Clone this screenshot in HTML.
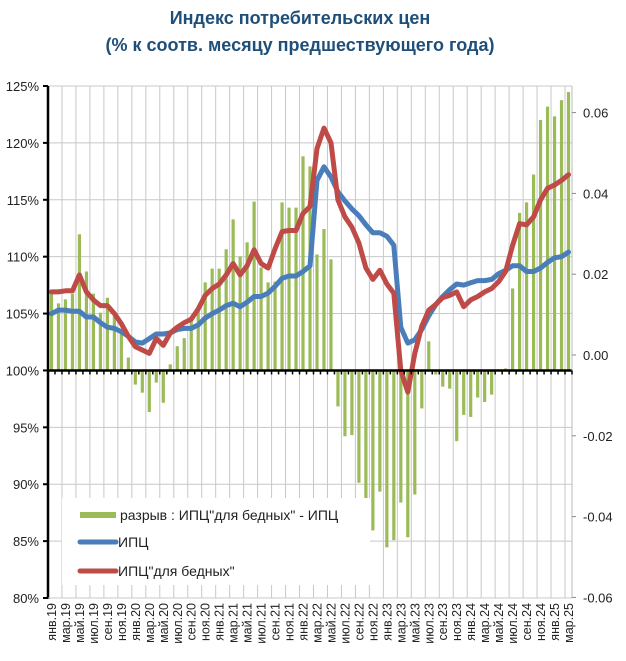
<!DOCTYPE html>
<html><head><meta charset="utf-8">
<style>
html,body{margin:0;padding:0;background:#fff;}
body{width:626px;height:656px;overflow:hidden;font-family:"Liberation Sans","DejaVu Sans",sans-serif;}
</style></head>
<body>
<svg id="chart" width="626" height="656" viewBox="0 0 626 656" xmlns="http://www.w3.org/2000/svg" font-family="Liberation Sans, DejaVu Sans, sans-serif">
<text x="300" y="24" text-anchor="middle" font-size="18" font-weight="bold" fill="#1f4e79">Индекс потребительских цен</text>
<text x="300" y="51" text-anchor="middle" font-size="18" font-weight="bold" fill="#1f4e79">(% к соотв. месяцу предшествующего года)</text>
<g id="grid"></g><g id="bars"></g><g id="lines"></g><g id="axes"></g>
<g>
<rect x="62" y="498" width="308" height="87" fill="#fff"/>
<rect x="80" y="512" width="36" height="6" fill="#9bbb59"/>
<text x="120" y="520" font-size="14" fill="#222">разрыв : ИПЦ"для бедных" - ИПЦ</text>
<line x1="80" y1="542" x2="116" y2="542" stroke="#4a7ebb" stroke-width="5" stroke-linecap="round"/>
<text x="118" y="547" font-size="14" fill="#222">ИПЦ</text>
<line x1="80" y1="571" x2="116" y2="571" stroke="#be4b48" stroke-width="5" stroke-linecap="round"/>
<text x="118" y="576" font-size="14" fill="#222">ИПЦ"для бедных"</text>
</g>
</svg>
<script>
const months=["янв","фев","мар","апр","май","июн","июл","авг","сен","окт","ноя","дек"];
const cpi=[105.0,105.3,105.3,105.2,105.2,104.7,104.7,104.2,103.8,103.7,103.4,103.0,102.5,102.4,102.8,103.2,103.2,103.3,103.6,103.7,103.7,104.0,104.6,105.0,105.3,105.7,105.9,105.6,106.0,106.5,106.5,106.8,107.4,108.1,108.3,108.3,108.7,109.2,116.7,117.9,117.0,115.7,114.9,114.2,113.6,112.8,112.1,112.1,111.8,111.0,103.8,102.4,102.7,103.6,104.8,105.8,106.5,107.1,107.6,107.5,107.7,107.9,107.9,108.0,108.5,108.8,109.2,109.2,108.7,108.7,109.0,109.5,109.9,110.0,110.4];
const cpiPoor=[106.9,106.9,107.0,107.0,108.4,106.9,106.2,105.7,105.7,105.0,104.1,103.0,102.1,101.8,101.5,102.8,102.2,103.3,103.8,104.2,104.5,105.4,106.6,107.2,107.6,108.4,109.4,108.4,109.2,110.6,109.4,109.0,110.7,112.2,112.3,112.3,113.8,114.4,119.5,121.3,120.0,115.0,113.5,112.6,111.2,109.0,108.0,108.8,107.6,106.8,100.0,98.1,101.5,103.9,105.3,105.8,106.4,106.6,106.9,105.6,106.2,106.5,106.9,107.2,107.8,108.7,111.0,112.9,112.8,113.5,115.0,116.0,116.3,116.7,117.2];
const gap=[0.019,0.0166,0.0176,0.019,0.0337,0.0245,0.019,0.0143,0.018,0.0134,0.0101,0.0032,-0.0035,-0.0055,-0.0103,-0.003,-0.008,0.0015,0.006,0.008,0.0126,0.015,0.0218,0.0252,0.0252,0.03,0.0374,0.0282,0.0317,0.0418,0.0255,0.0218,0.022,0.0416,0.0403,0.0403,0.053,0.0505,0.0287,0.035,0.0275,-0.0089,-0.0163,-0.016,-0.0278,-0.032,-0.0396,-0.03,-0.0438,-0.042,-0.0327,-0.0413,-0.0307,-0.0094,0.0072,-0.001,-0.004,-0.0045,-0.0175,-0.011,-0.0115,-0.0067,-0.0078,-0.006,0.0003,0.0005,0.0203,0.039,0.0416,0.0485,0.062,0.0653,0.0629,0.0669,0.0689];
const leftTicks=[80,85,90,95,100,105,110,115,120,125];
const rightTicks=[-0.06,-0.04,-0.02,0,0.02,0.04,0.06];
const NS="http://www.w3.org/2000/svg";
const X0=48,X1=572,N=cpi.length,step=(X1-X0)/N;
const xc=i=>X0+step*(i+0.5);
const yL=v=>86+(125-v)*11.378;
const yR=v=>355-v*4040;
const barBase=yL(100);
function mk(tag,attrs,parent){const e=document.createElementNS(NS,tag);for(const k in attrs)e.setAttribute(k,attrs[k]);document.getElementById(parent).appendChild(e);return e;}
for(let k=0;k<=N;k+=2){const x=X0+step*k;const g=mk('line',{x1:x,x2:x,y1:86,y2:598,stroke:'#c8c8c8','stroke-width':1},'grid');

}
leftTicks.forEach(t=>{const g=mk('line',{x1:X0,x2:X1,y1:yL(t),y2:yL(t),stroke:'#c8c8c8','stroke-width':1},'grid');

});
gap.forEach((v,i)=>{const y=v>=0?barBase-v*4040:barBase;const h=Math.abs(v)*4040;
const b=mk('rect',{x:xc(i)-1.6,y:y,width:3.2,height:h,fill:'#9bbb59'},'bars');

});
function line(arr,color,name){const d=arr.map((v,i)=>(i?'L':'M')+xc(i).toFixed(1)+' '+yL(v).toFixed(1)).join(' ');
const p=mk('path',{d:d,fill:'none',stroke:color,'stroke-width':5,'stroke-linejoin':'round','stroke-linecap':'round'},'lines');

}
line(cpi,'#4a7ebb','cpi-line');
line(cpiPoor,'#be4b48','cpi-poor-line');
const la=mk('line',{x1:X0,x2:X0,y1:86,y2:599,stroke:'#000','stroke-width':2.5},'axes');


const zl=mk('line',{x1:X0,x2:X1,y1:barBase,y2:barBase,stroke:'#000','stroke-width':2.5},'axes');


const ra=mk('line',{x1:X1,x2:X1,y1:86,y2:598,stroke:'#bbb','stroke-width':1},'axes');


for(let k=0;k<=N;k++){const x=X0+step*k;mk('line',{x1:x,x2:x,y1:barBase,y2:barBase+4,stroke:'#000','stroke-width':1.5},'axes');}
leftTicks.forEach(t=>{mk('line',{x1:X0-5,x2:X0,y1:yL(t),y2:yL(t),stroke:'#000','stroke-width':2},'axes');
const tx=mk('text',{x:39,y:yL(t)+5,'text-anchor':'end','font-size':13,fill:'#222'},'axes');tx.textContent=t+'%';

});
rightTicks.forEach(t=>{mk('line',{x1:X1,x2:X1+4,y1:yR(t),y2:yR(t),stroke:'#888','stroke-width':1},'axes');
const tx=mk('text',{x:583,y:yR(t)+5,'font-size':13,fill:'#222'},'axes');tx.textContent=(t<0?'-':'')+Math.abs(t).toFixed(2);

});
const bl=mk('line',{x1:X0,x2:X1,y1:598,y2:598,stroke:'#c8c8c8','stroke-width':1},'axes');


for(let i=0;i<N;i+=2){const m=i%12,yr=19+Math.floor(i/12);const x=xc(i)+4.5;
const tx=mk('text',{x:0,y:0,transform:`translate(${x.toFixed(1)},603) rotate(-90)`,'text-anchor':'end','font-size':12.5,fill:'#222'},'axes');
tx.textContent=months[m]+'.'+yr;

}
</script>
</body></html>
